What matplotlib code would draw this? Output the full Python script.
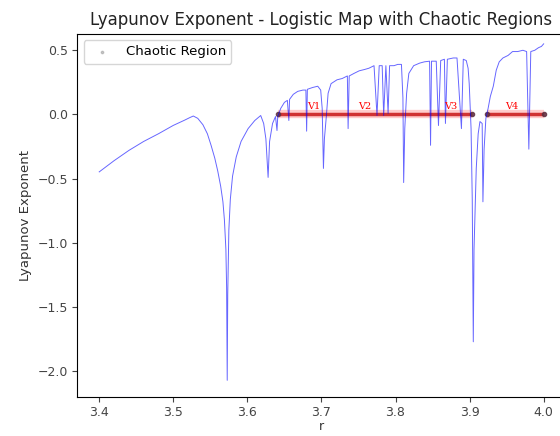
"""Lyapunov exponent of the logistic map, chaotic regions marked on the zero line."""
import matplotlib
matplotlib.use('Agg')
from matplotlib import pyplot as plt

# parameter r and exponent
r_vals = [
    3.400, 3.420, 3.440, 3.460, 3.480, 3.500, 3.515, 3.522,
    3.527, 3.533, 3.540, 3.546, 3.551, 3.556, 3.560, 3.564,
    3.567, 3.569, 3.571, 3.572, 3.5728, 3.5735, 3.575, 3.577,
    3.580, 3.585, 3.5915, 3.601, 3.610, 3.618, 3.622, 3.625,
    3.628, 3.630, 3.634, 3.638, 3.640, 3.641, 3.645, 3.650,
    3.654, 3.656, 3.657, 3.662, 3.668, 3.675, 3.679, 3.680,
    3.681, 3.688, 3.695, 3.699, 3.701, 3.7027, 3.704, 3.7067,
    3.709, 3.713, 3.721, 3.728, 3.735, 3.736, 3.7375, 3.744,
    3.751, 3.758, 3.764, 3.771, 3.775, 3.778, 3.782, 3.784,
    3.787, 3.790, 3.792, 3.798, 3.803, 3.808, 3.810, 3.811,
    3.8125, 3.815, 3.818, 3.8245, 3.8326, 3.839, 3.846, 3.8473,
    3.8486, 3.855, 3.858, 3.861, 3.866, 3.8674, 3.870, 3.878,
    3.883, 3.889, 3.8915, 3.8955, 3.898, 3.8995, 3.902, 3.9036,
    3.905, 3.906, 3.909, 3.9116, 3.914, 3.917, 3.918, 3.9196,
    3.922, 3.925, 3.928, 3.932, 3.936, 3.940, 3.945, 3.952,
    3.958, 3.965, 3.972, 3.977, 3.980, 3.9826, 3.988, 3.993,
    3.997, 4.000,
]
lyap_vals = [
    -0.447, -0.36, -0.28, -0.21, -0.15, -0.085, -0.045, -0.025,
    -0.012, -0.03, -0.08, -0.15, -0.24, -0.34, -0.44, -0.56,
    -0.68, -0.82, -1.05, -1.35, -2.07, -1.40, -0.90, -0.66,
    -0.48, -0.33, -0.21, -0.11, -0.047, -0.008, -0.07, -0.19,
    -0.49, -0.21, -0.07, -0.016, -0.125, -0.016, 0.047, 0.094,
    0.11, -0.047, 0.118, 0.157, 0.18, 0.19, 0.19, -0.13,
    0.196, 0.21, 0.22, 0.19, 0.047, -0.42, -0.19, -0.008,
    0.165, 0.24, 0.27, 0.28, 0.30, -0.11, 0.30, 0.32,
    0.34, 0.35, 0.36, 0.38, -0.008, 0.38, 0.38, -0.008,
    0.38, 0.008, 0.38, 0.38, 0.39, 0.39, 0.13, -0.53,
    -0.11, 0.165, 0.32, 0.38, 0.40, 0.41, 0.415, -0.24,
    0.415, 0.415, -0.086, 0.42, 0.43, -0.07, 0.43, 0.44,
    0.44, -0.11, 0.43, 0.42, 0.36, 0.24, -0.11, -0.66,
    -1.77, -1.05, -0.42, -0.15, -0.055, -0.07, -0.68, -0.27,
    -0.03, 0.047, 0.14, 0.22, 0.345, 0.41, 0.44, 0.46,
    0.49, 0.49, 0.50, 0.49, -0.27, 0.49, 0.50, 0.52,
    0.53, 0.55,
]

# chaotic stretches (exponent above zero) shown on the zero line
chaos_start = [3.641, 3.924]
chaos_end = [3.903, 4.000]

# window labels
window_names = ['V1', 'V2', 'V3', 'V4']
window_r = [3.689, 3.758, 3.875, 3.957]


def main():
    """Draw the figure and save it."""
    fig = plt.figure(figsize=(5.6, 4.36), dpi=100)
    ax = fig.add_axes([0.1375, 0.0894, 0.873, 0.8336])

    for start, end in zip(chaos_start, chaos_end):
        ax.plot([start, end], [0, 0], color='red', lw=6, alpha=0.2,
                solid_capstyle='butt')
        ax.plot([start, end], [0, 0], color='#c81818', lw=2.5, alpha=0.85,
                marker='o', ms=3, mfc='#603040', mec='#603040',
                solid_capstyle='butt')
    ax.scatter([], [], s=3, color='grey', alpha=0.4, label='Chaotic Region')

    ax.plot(r_vals, lyap_vals, color='blue', lw=0.7, alpha=0.6)

    for name, rv in zip(window_names, window_r):
        ax.text(rv, 0.025, name, color='red', fontsize=7,
                family='DejaVu Serif', ha='center', va='bottom')

    ax.set_ylim(-2.2, 0.63)
    ax.set_xlabel('r', fontsize=9, color='#333333', labelpad=1)
    ax.set_ylabel('Lyapunov Exponent', fontsize=9.5, color='#333333')
    ax.set_title('Lyapunov Exponent - Logistic Map with Chaotic Regions',
                 fontsize=12, color='#222222')
    ax.tick_params(labelsize=9, colors='#444444', pad=3)
    ax.legend(loc='upper left', fontsize=9.5)

    fig.savefig('out.png', dpi=100)


if __name__ == '__main__':
    main()
